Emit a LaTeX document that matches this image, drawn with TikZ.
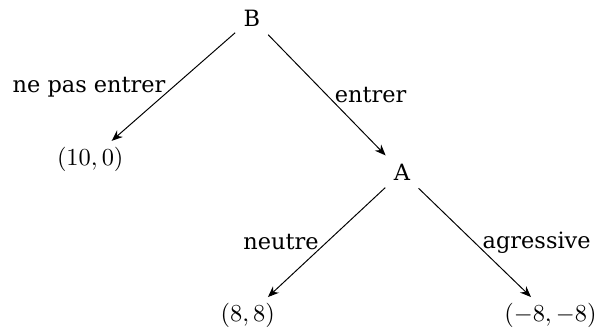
\documentclass[tikz,border=0pt]{standalone}
\usepackage{fontspec}
\setmainfont{DejaVu Serif}[Scale=0.92]
\usetikzlibrary{arrows.meta}

\begin{document}
\begin{tikzpicture}[
    player/.style={inner sep=3.3pt},
    payoff/.style={inner sep=2.5pt},
    move/.style={-{Stealth[length=4.5pt, width=3.6pt]}, line width=0.4pt},
    x=1cm, y=1cm
]

\useasboundingbox (0,0) rectangle (8.63,4.81);

% ── Decision nodes ───────────────────────────────────────────────────────────
\node[player] (B) at (3.63, 4.55) {B};
\node[player] (A) at (5.79, 2.33) {A};

% ── Payoffs ──────────────────────────────────────────────────────────────────
\node[payoff] (stay)    at (1.30, 2.51) {$(10,0)$};
\node[payoff] (calm)    at (3.57, 0.26) {$(8,8)$};
\node[payoff] (fight)   at (7.93, 0.26) {$(-8,-8)$};

% ── Moves ────────────────────────────────────────────────────────────────────
\draw[move] (B) -- node[midway, left]  {ne pas entrer} (stay);
\draw[move] (B) -- node[midway, right] {entrer} (A);
\draw[move] (A) -- node[midway, left]  {neutre} (calm);
\draw[move] (A) -- node[midway, right] {agressive} (fight);

\end{tikzpicture}
\end{document}
